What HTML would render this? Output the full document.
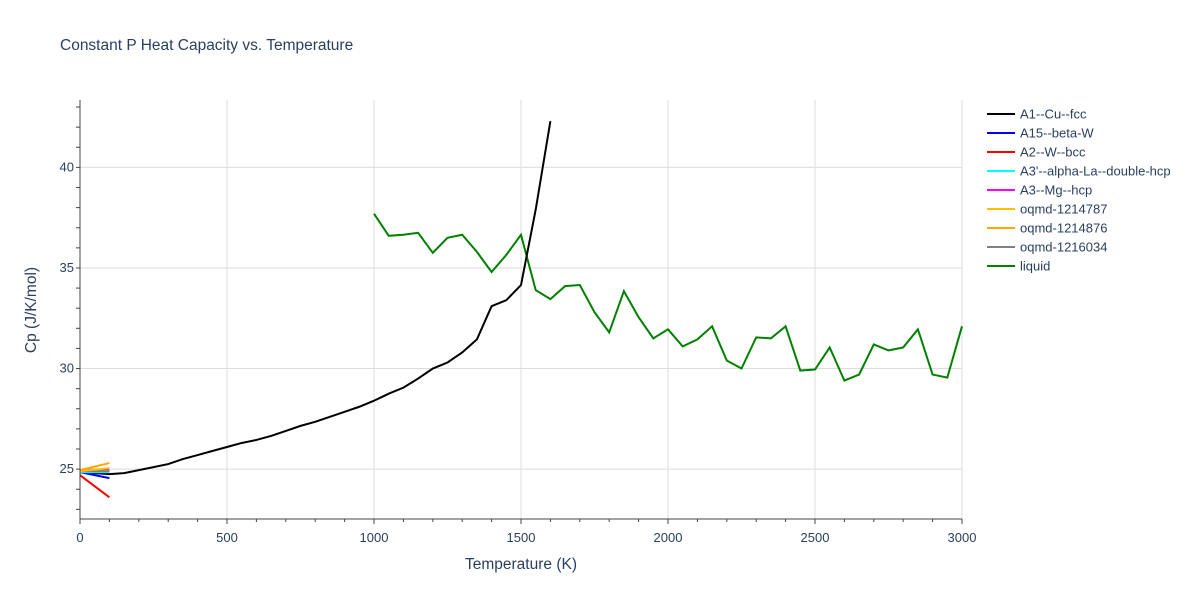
<!DOCTYPE html>
<html><head><meta charset="utf-8"><style>
body{margin:0;background:#fff;font-family:"Liberation Sans",sans-serif;}
svg text{font-family:"Liberation Sans",sans-serif;fill:#2a3f5f;}
</style></head><body>
<svg id="c" width="1200" height="600">
<text x="60" y="50" font-size="15.5">Constant P Heat Capacity vs. Temperature</text>
<g id="grid"></g><g id="series"></g><g id="axes"></g><g id="legend"></g>
<text x="521" y="569" font-size="15.5" text-anchor="middle">Temperature (K)</text>
<text transform="translate(36,310) rotate(-90)" font-size="15.5" text-anchor="middle">Cp (J/K/mol)</text>
</svg>
<script>
const xTicks=[0,500,1000,1500,2000,2500,3000];
const yTicks=[25,30,35,40];
const seriesNames=["A1--Cu--fcc","A15--beta-W","A2--W--bcc","A3'--alpha-La--double-hcp","A3--Mg--hcp","oqmd-1214787","oqmd-1214876","oqmd-1216034","liquid"];
const seriesColors=["#000000","#0000ff","#ff0000","#00ffff","#ff00ff","#ffc000","#ffa500","#808080","#008000"];
const tCu=[0,100,150,200,250,300,350,400,450,500,550,600,650,700,750,800,850,900,950,1000,1050,1100,1150,1200,1250,1300,1350,1400,1450,1500,1550,1600];
const cpCu=[24.85,24.75,24.8,24.95,25.1,25.25,25.5,25.7,25.9,26.1,26.3,26.45,26.65,26.9,27.15,27.35,27.6,27.85,28.1,28.4,28.75,29.05,29.5,30.0,30.3,30.8,31.45,33.1,33.4,34.15,37.9,42.3];
const tLow=[0,100];
const cpA15=[24.85,24.55];
const cpA2=[24.7,23.6];
const cpA3p=[24.85,24.85];
const cpA3=[24.95,25.0];
const cp787=[24.9,25.05];
const cp876=[24.95,25.3];
const cp034=[24.9,24.9];
const tLiq=[1000,1050,1100,1150,1200,1250,1300,1350,1400,1450,1500,1550,1600,1650,1700,1750,1800,1850,1900,1950,2000,2050,2100,2150,2200,2250,2300,2350,2400,2450,2500,2550,2600,2650,2700,2750,2800,2850,2900,2950,3000];
const cpLiq=[37.7,36.6,36.65,36.75,35.75,36.5,36.65,35.8,34.8,35.65,36.65,33.9,33.45,34.1,34.15,32.8,31.8,33.85,32.55,31.5,31.95,31.1,31.45,32.1,30.4,30.0,31.55,31.5,32.1,29.9,29.95,31.05,29.4,29.7,31.2,30.9,31.05,31.95,29.7,29.55,32.1];
const X0=80,X1=962,Y0=519,Y1=100,xMin=0,xMax=3000,yMin=22.52,yMax=43.35;
const sx=v=>X0+(v-xMin)/(xMax-xMin)*(X1-X0);
const sy=v=>Y0-(v-yMin)/(yMax-yMin)*(Y0-Y1);
const NS="http://www.w3.org/2000/svg";
function mk(t,a,p){const e=document.createElementNS(NS,t);for(const k in a)e.setAttribute(k,a[k]);p.appendChild(e);return e;}
const G=document.getElementById('grid'),A=document.getElementById('axes'),S=document.getElementById('series'),L=document.getElementById('legend');
xTicks.forEach(v=>{
 if(v>0){const l=mk('line',{x1:sx(v),x2:sx(v),y1:Y1,y2:Y0,stroke:'#ddd'},G);
 
 }
 const t=mk('text',{x:sx(v),y:Y0+23,'font-size':13,'text-anchor':'middle'},A);t.textContent=v;
 
 
 mk('line',{x1:sx(v),x2:sx(v),y1:Y0,y2:Y0+5,stroke:'#444'},A);
});
for(let v=0;v<=3000;v+=100){mk('line',{x1:sx(v),x2:sx(v),y1:Y0,y2:Y0+3,stroke:'#444'},A);}
yTicks.forEach(v=>{
 const l=mk('line',{x1:X0,x2:X1,y1:sy(v),y2:sy(v),stroke:'#ddd'},G);
 
 
 const t=mk('text',{x:X0-6,y:sy(v)+4,'font-size':13,'text-anchor':'end'},A);t.textContent=v;
 
 
});
for(let v=23;v<=43;v++){mk('line',{x1:X0-4,x2:X0,y1:sy(v),y2:sy(v),stroke:'#444'},A);}
mk('line',{x1:X0,x2:X0,y1:Y1,y2:Y0,stroke:'#444'},A);
mk('line',{x1:X0,x2:X1,y1:Y0,y2:Y0,stroke:'#444'},A);
const data=[[tCu,cpCu],[tLow,cpA15],[tLow,cpA2],[tLow,cpA3p],[tLow,cpA3],[tLow,cp787],[tLow,cp876],[tLow,cp034],[tLiq,cpLiq]];
const order=[8,0,1,2,3,4,7,5,6];
order.forEach(i=>{
 const [xs,ys]=data[i];
 const p=mk('polyline',{points:xs.map((x,j)=>sx(x)+','+sy(ys[j])).join(' '),fill:'none',stroke:seriesColors[i],'stroke-width':2},S);
 
 
});
seriesNames.forEach((n,i)=>{
 const y=114+i*19;
 const g=mk('g',{},L);
 
 
 mk('line',{x1:987,x2:1015,y1:y,y2:y,stroke:seriesColors[i],'stroke-width':2},g);
 const t=mk('text',{x:1020,y:y+4.5,'font-size':13},g);t.textContent=n;
});
</script>
</body></html>
